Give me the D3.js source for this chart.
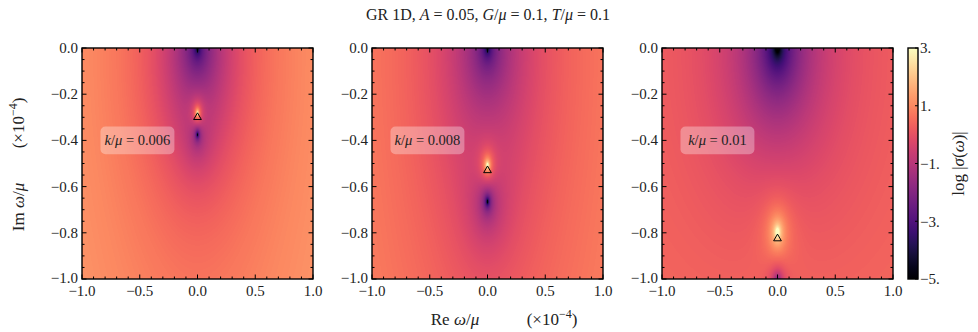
<!DOCTYPE html>
<html lang="en">
<head>
<meta charset="utf-8">
<title>GR 1D conductivity in the complex plane</title>
<script src="https://d3js.org/d3.v7.min.js"></script>
<style>
  body { margin: 0; background: #fff; }
  svg text { font-family: "Liberation Serif", "DejaVu Serif", serif; fill: #222; }
  .tick-label { font-size: 15px; }
</style>
</head>
<body>
<div id="chart"></div>
<script>
// ---- data ----
const panelK = ["0.006", "0.008", "0.01"];
// marked pole (triangle), Im part of omega, Re = 0
const markerRe = [0, 0, 0];
const markerIm = [-0.30, -0.53, -0.825];
// background level: [base, slope across Re, width of the central band]
const background = [
  [1.36, 0.31, 0.5],
  [0.95, 0.36, 0.5],
  [0.71, -0.20, 0.5]
];
// zeros (weight > 0) and poles (weight < 0): [Re, Im, weight, reach, core]
const features = [
  [[0, 0.00, 2.0, 0.70, 0.15], [0, 0.00, 1.0, 0.09, 0],
   [0, -0.282, -1.5, 0.11, 0], [0, -0.375, 1.5, 0.05, 0], [0, -0.375, 1.0, 0.30, 0.10]],
  [[0, 0.00, 1.5, 0.80, 0.15], [0, 0.00, 1.0, 0.11, 0],
   [0, -0.508, -1.5, 0.12, 0], [0, -0.665, 1.5, 0.07, 0], [0, -0.665, 1.0, 0.35, 0.10]],
  [[0, 0.00, 2.0, 0.90, 0.15], [0, 0.00, 1.2, 0.13, 0],
   [0, -0.797, -1.3, 0.17, 0], [0, -1.020, 2.0, 0.08, 0]]
];
const xTicks = [-1.0, -0.5, 0.0, 0.5, 1.0];
const yTicks = [0.0, -0.2, -0.4, -0.6, -0.8, -1.0];
const cbTicks = [3, 1, -1, -3, -5];

// ---- layout ----
const W = 978, H = 332;
const panelX = [82, 372, 662];
const plotTop = 48, size = 231;
const cb = {x: 908, w: 10};
const aspect = 1.15;

const svg = d3.select("#chart").append("svg")
  .attr("width", W).attr("height", H);

const color = d3.scaleSequential(d3.interpolateMagma).domain([-5, 3]).clamp(true);

function field(p, re, im) {
  const bg = background[p];
  let v = bg[0] + bg[1] * 0.5 * Math.log(re * re + bg[2] * bg[2]);
  features[p].forEach(f => {
    const dx = (re - f[0]) * aspect, dy = im - f[1];
    const d2 = dx * dx + dy * dy + f[4] * f[4] + 1e-9;
    v += f[2] * 0.5 * Math.log(d2 / (d2 + f[3] * f[3]));
  });
  return v;
}

const fmt1 = d => (d < 0 ? "\u2212" : "") + Math.abs(d).toFixed(1);

panelK.forEach((k, p) => {
  const x = d3.scaleLinear().domain([-1, 1]).range([0, size]);
  const y = d3.scaleLinear().domain([-1, 0]).range([size, 0]);
  const g = svg.append("g").attr("transform", `translate(${panelX[p]},${plotTop})`);

  // heat map, one pixel per cell, painted to a canvas and placed as an image
  const canvas = document.createElement("canvas");
  canvas.width = size; canvas.height = size;
  const ctx = canvas.getContext("2d");
  const img = ctx.createImageData(size, size);
  for (let j = 0; j < size; j++) {
    const im = y.invert(j + 0.5);
    for (let i = 0; i < size; i++) {
      const re = x.invert(i + 0.5);
      const c = d3.rgb(color(field(p, re, im)));
      const o = (j * size + i) * 4;
      img.data[o] = c.r; img.data[o + 1] = c.g; img.data[o + 2] = c.b; img.data[o + 3] = 255;
    }
  }
  ctx.putImageData(img, 0, 0);
  g.append("image").attr("width", size).attr("height", size)
    .attr("href", canvas.toDataURL());

  // label box
  g.append("rect")
    .attr("x", x(-0.84)).attr("y", y(-0.34))
    .attr("width", x(-0.20) - x(-0.84)).attr("height", y(-0.46) - y(-0.34))
    .attr("rx", 5).attr("fill", "#fff").attr("fill-opacity", 0.32);
  const lab = g.append("text")
    .attr("x", x(-0.52)).attr("y", y(-0.40)).attr("dy", "0.35em")
    .attr("text-anchor", "middle").style("font-size", "14.5px");
  lab.append("tspan").attr("font-style", "italic").text("k");
  lab.append("tspan").text("/");
  lab.append("tspan").attr("font-style", "italic").text("\u03bc");
  lab.append("tspan").text(" = " + k);

  // marked pole
  g.append("path")
    .attr("d", d3.symbol(d3.symbolTriangle, 26)())
    .attr("transform", `translate(${x(markerRe[p])},${y(markerIm[p])})`)
    .attr("fill", "none").attr("stroke", "#000").attr("stroke-width", 1);

  // ticks on all four sides, inward
  const xMinor = d3.range(-1, 1.0001, 0.1);
  const yMinor = d3.range(-1, 0.0001, 0.05);
  const tk = g.append("g").attr("stroke", "#000");
  xMinor.forEach(t => {
    const major = xTicks.some(m => Math.abs(m - t) < 1e-6);
    const L = major ? 4.5 : 2.5;
    tk.append("line").attr("x1", x(t)).attr("x2", x(t)).attr("y1", size).attr("y2", size - L);
    tk.append("line").attr("x1", x(t)).attr("x2", x(t)).attr("y1", 0).attr("y2", L);
  });
  yMinor.forEach(t => {
    const major = yTicks.some(m => Math.abs(m - t) < 1e-6);
    const L = major ? 4.5 : 2.5;
    tk.append("line").attr("y1", y(t)).attr("y2", y(t)).attr("x1", 0).attr("x2", L);
    tk.append("line").attr("y1", y(t)).attr("y2", y(t)).attr("x1", size).attr("x2", size - L);
  });

  g.append("rect").attr("width", size).attr("height", size)
    .attr("fill", "none").attr("stroke", "#000").attr("stroke-width", 1.4);

  g.selectAll(".xl").data(xTicks).join("text")
    .attr("class", "tick-label")
    .attr("x", d => x(d)).attr("y", size + 17)
    .attr("text-anchor", "middle").text(fmt1);
  g.selectAll(".yl").data(yTicks).join("text")
    .attr("class", "tick-label")
    .attr("x", -4).attr("y", d => y(d) - (d === -1 ? 1 : 0)).attr("dy", "0.33em")
    .attr("text-anchor", "end").text(fmt1);
});

// colour bar
const cbY = d3.scaleLinear().domain([-5, 3]).range([plotTop + size, plotTop]);
const defs = svg.append("defs");
const grad = defs.append("linearGradient").attr("id", "magma")
  .attr("x1", 0).attr("x2", 0).attr("y1", 1).attr("y2", 0);
d3.range(0, 1.0001, 0.05).forEach(t => {
  grad.append("stop").attr("offset", t).attr("stop-color", d3.interpolateMagma(t));
});
svg.append("rect").attr("x", cb.x).attr("y", plotTop).attr("width", cb.w).attr("height", size)
  .attr("fill", "url(#magma)").attr("stroke", "#000").attr("stroke-width", 1.4);
svg.selectAll(".cbt").data(cbTicks).join("line")
  .attr("x1", cb.x + cb.w - 3).attr("x2", cb.x + cb.w)
  .attr("y1", d => cbY(d)).attr("y2", d => cbY(d)).attr("stroke", "#000");
svg.selectAll(".cbl").data(cbTicks).join("text")
  .attr("class", "tick-label")
  .attr("x", cb.x + cb.w + 2).attr("y", d => cbY(d)).attr("dy", "0.35em")
  .text(d => (d < 0 ? "\u2212" : "") + Math.abs(d) + ".");

const cbl = svg.append("text")
  .attr("transform", `translate(964,${plotTop + size / 2}) rotate(-90)`)
  .attr("text-anchor", "middle").style("font-size", "17px");
cbl.append("tspan").text("log |");
cbl.append("tspan").attr("font-style", "italic").text("\u03c3");
cbl.append("tspan").text("(");
cbl.append("tspan").attr("font-style", "italic").text("\u03c9");
cbl.append("tspan").text(")|");

// title
const title = svg.append("text").attr("x", 488).attr("y", 20)
  .attr("text-anchor", "middle").style("font-size", "16px");
[["GR 1D, ", 0], ["A", 1], [" = 0.05, ", 0], ["G", 1], ["/", 0], ["\u03bc", 1],
 [" = 0.1, ", 0], ["T", 1], ["/", 0], ["\u03bc", 1], [" = 0.1", 0]].forEach(s => {
  title.append("tspan").attr("font-style", s[1] ? "italic" : null).text(s[0]);
});

// axis labels
const xl = svg.append("text").attr("x", 455).attr("y", 325)
  .attr("text-anchor", "middle").style("font-size", "17px");
xl.append("tspan").text("Re ");
xl.append("tspan").attr("font-style", "italic").text("\u03c9");
xl.append("tspan").text("/");
xl.append("tspan").attr("font-style", "italic").text("\u03bc");
const xe = svg.append("text").attr("x", 552).attr("y", 325)
  .attr("text-anchor", "middle").style("font-size", "17px");
xe.append("tspan").text("(\u00d710");
xe.append("tspan").attr("dy", -7).style("font-size", "12px").text("\u22124");
xe.append("tspan").attr("dy", 7).text(")");

const yl = svg.append("text").attr("transform", "translate(24,207) rotate(-90)")
  .attr("text-anchor", "middle").style("font-size", "17px");
yl.append("tspan").text("Im ");
yl.append("tspan").attr("font-style", "italic").text("\u03c9");
yl.append("tspan").text("/");
yl.append("tspan").attr("font-style", "italic").text("\u03bc");
const ye = svg.append("text").attr("transform", "translate(24,123) rotate(-90)")
  .attr("text-anchor", "middle").style("font-size", "17px");
ye.append("tspan").text("(\u00d710");
ye.append("tspan").attr("dy", -7).style("font-size", "12px").text("\u22124");
ye.append("tspan").attr("dy", 7).text(")");
</script>
</body>
</html>
